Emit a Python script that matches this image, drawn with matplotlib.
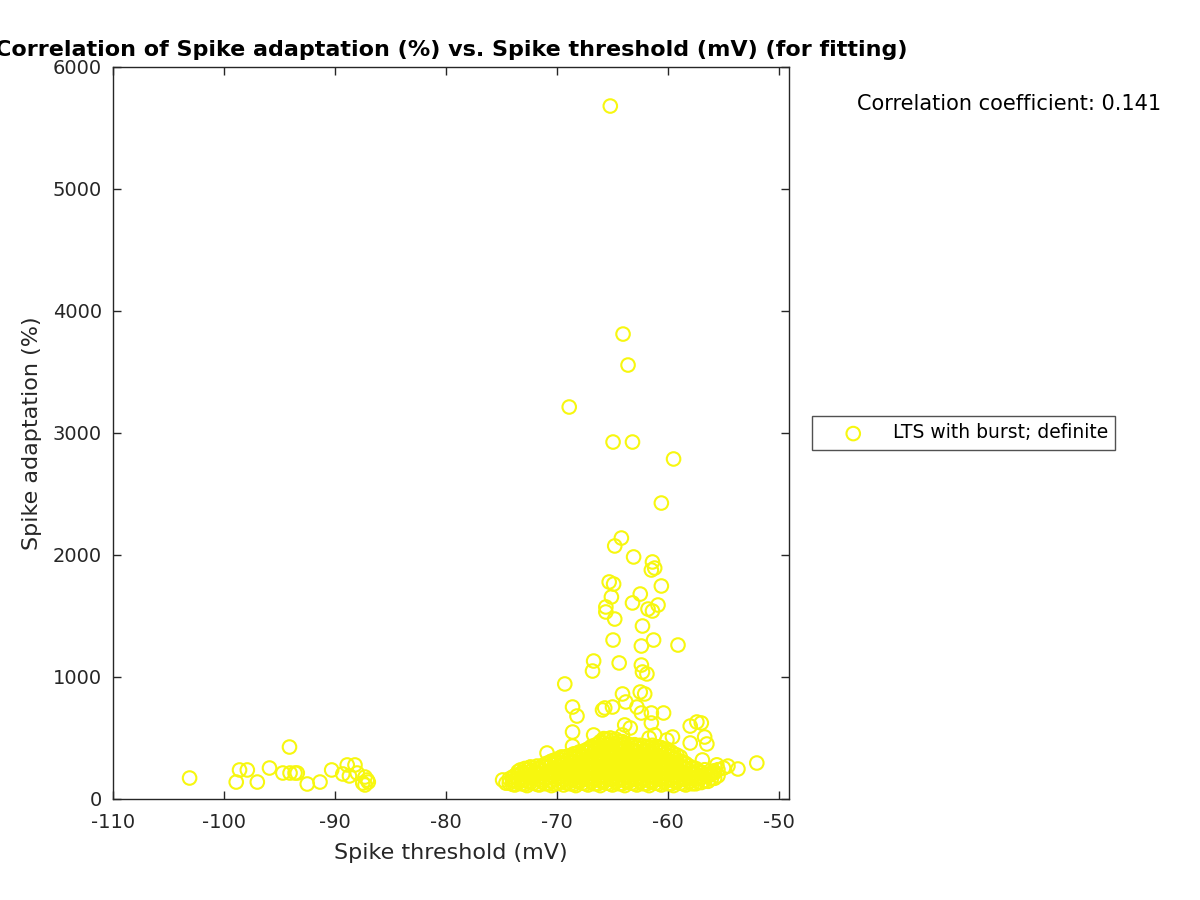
import numpy as np
import matplotlib
matplotlib.use('Agg')
import matplotlib.pyplot as plt

plt.rcParams['axes.unicode_minus'] = False

# isolated cells with very low threshold
left_x = [-103.1, -98.9, -98.6, -97.9, -97.0, -95.9, -94.7, -94.1, -94.05, -93.6,
          -93.4, -92.5, -91.35, -90.3, -89.3, -88.9, -88.2, -88.7, -88.0,
          -87.3, -87.1, -87.5, -87.3, -87.0]
left_y = [172, 139, 238, 238, 139, 254, 213, 426, 213, 213,
          213, 123, 139, 238, 205, 279, 279, 189, 213,
          180, 156, 131, 115, 139]

# high adaptation outliers
high_x = [-65.2, -64.05, -63.6, -68.9, -64.95, -63.2, -59.5, -60.6, -64.2, -64.8,
          -63.1, -61.4, -61.2, -61.5, -65.3, -64.9, -60.6, -62.5, -65.1, -65.6,
          -65.6, -63.2, -60.9, -61.8, -61.4, -64.8, -62.3, -64.95, -61.3, -59.1,
          -62.4, -66.7, -62.4, -66.8, -62.3, -61.9, -69.3, -64.4, -64.1, -63.8,
          -62.5, -62.1, -65.9, -65.7, -65.0, -62.8, -62.4, -61.5, -60.4, -61.5,
          -68.6, -68.2, -68.6, -68.6, -70.9]
high_y = [5680, 3811, 3557, 3213, 2926, 2926, 2787, 2426, 2139, 2074,
          1984, 1943, 1893, 1877, 1779, 1762, 1746, 1680, 1656, 1574,
          1533, 1607, 1590, 1557, 1541, 1475, 1418, 1303, 1303, 1262,
          1254, 1131, 1098, 1049, 1041, 1025, 943, 1115, 861, 795,
          877, 861, 730, 746, 754, 754, 705, 705, 705, 623,
          754, 680, 549, 434, 377]

# sparse points around the main cluster
edge_x = [-58.0, -57.4, -57.0, -56.7, -56.5, -58.0, -52.0, -53.7, -55.0, -74.9,
          -73.3, -72.4, -66.7, -65.7, -63.9, -64.1, -63.4, -61.7, -61.2, -60.1,
          -59.6, -74.6, -56.2, -55.6, -57.4, -56.9, -54.6, -55.9]
edge_y = [598, 631, 623, 508, 451, 459, 295, 246, 254, 156,
          238, 262, 525, 484, 607, 525, 582, 500, 525, 484,
          508, 130, 200, 280, 180, 320, 270, 230]

# dense cluster, read column by column
blob_cols_x = [-74.3, -74.0, -73.8, -73.5, -73.2, -72.9, -72.7, -72.4, -72.1, -71.8,
               -71.6, -71.3, -71.0, -70.7, -70.5, -70.2, -69.9, -69.6, -69.4, -69.1,
               -68.8, -68.5, -68.3, -68.0, -67.7, -67.4, -67.2, -66.9, -66.6, -66.3,
               -66.1, -65.8, -65.5, -65.2, -65.0, -64.7, -64.4, -64.1, -63.9, -63.6,
               -63.3, -63.0, -62.8, -62.5, -62.2, -61.9, -61.7, -61.4, -61.1, -60.8,
               -60.6, -60.3, -60.0, -59.7, -59.5, -59.2, -58.9, -58.6, -58.4, -58.1,
               -57.8, -57.5, -57.3, -57.0, -56.7, -56.4, -56.1, -55.8, -55.5]
blob_cols_y = [
    [130, 165], [120, 150, 180], [115, 150, 190], [135, 165, 200, 225],
    [125, 170, 215], [120, 160, 205, 250], [110, 145, 195, 240], [135, 180, 225, 260],
    [130, 175, 220, 255], [120, 165, 210, 245, 270], [115, 155, 205, 250],
    [140, 185, 235, 275], [125, 170, 215, 265, 290], [130, 175, 220, 260, 300],
    [110, 150, 195, 240, 285, 310], [120, 165, 210, 255, 300, 320],
    [130, 175, 220, 265, 300, 330], [140, 185, 235, 280, 320, 345],
    [115, 160, 205, 250, 290, 340], [130, 175, 225, 270, 315, 350],
    [125, 170, 215, 260, 305, 355], [120, 165, 210, 255, 300, 345, 370],
    [110, 150, 195, 240, 285, 330, 370], [140, 185, 230, 275, 320, 360, 385],
    [130, 175, 220, 265, 310, 355, 390], [125, 170, 215, 260, 305, 350, 400],
    [115, 160, 205, 250, 295, 340, 385, 410], [140, 185, 230, 275, 320, 365, 410, 430],
    [125, 170, 215, 260, 305, 350, 395, 440], [125, 170, 215, 260, 305, 350, 400, 450],
    [110, 150, 195, 240, 285, 330, 375, 420, 470],
    [140, 185, 230, 275, 320, 365, 410, 460, 495],
    [130, 175, 220, 265, 310, 355, 400, 445, 490],
    [125, 170, 215, 260, 305, 350, 400, 450, 500],
    [115, 160, 205, 250, 295, 340, 385, 430, 480],
    [140, 185, 230, 275, 320, 365, 410, 455, 490],
    [125, 170, 215, 260, 305, 350, 395, 440, 470],
    [125, 170, 215, 260, 305, 350, 400, 450, 470],
    [110, 150, 195, 240, 285, 330, 375, 420, 455],
    [140, 185, 230, 275, 320, 365, 410, 450],
    [130, 175, 220, 265, 310, 355, 400, 440], [125, 170, 215, 260, 305, 350, 395, 445],
    [115, 160, 205, 250, 295, 340, 385, 430], [140, 185, 230, 275, 320, 365, 410, 440],
    [125, 170, 215, 260, 305, 350, 395, 435], [125, 170, 215, 260, 305, 350, 395, 430],
    [110, 150, 195, 240, 285, 330, 375, 420], [140, 185, 230, 275, 320, 365, 410, 440],
    [130, 175, 220, 265, 310, 355, 400, 430], [125, 170, 215, 260, 305, 350, 395, 425],
    [115, 160, 205, 250, 295, 340, 385, 420], [140, 185, 230, 275, 320, 365, 405],
    [125, 170, 215, 260, 305, 350, 390], [125, 170, 215, 260, 305, 350, 385],
    [110, 150, 195, 240, 285, 330, 370], [140, 185, 230, 275, 320, 360],
    [130, 175, 220, 265, 310, 345], [125, 170, 215, 260, 300],
    [115, 160, 205, 250, 290], [140, 185, 230, 270],
    [125, 170, 215, 255], [125, 165, 205, 250], [140, 185, 230], [135, 180, 220],
    [150, 200, 240], [145, 190], [165, 210], [170, 215], [190, 240]]

blob_x = [cx for cx, col in zip(blob_cols_x, blob_cols_y) for _ in col]
blob_y = [v for col in blob_cols_y for v in col]

x = np.array(left_x + blob_x + edge_x + high_x)
y = np.array(left_y + blob_y + edge_y + high_y)
corr = 0.141

ax_color = (0.15, 0.15, 0.15)
yellow = '#f7f70f'

fig = plt.figure(figsize=(12, 9), dpi=100)
ax = fig.add_axes([113 / 1200, 1 - 799 / 900, (789 - 113) / 1200, (799 - 67) / 900])

ax.scatter(x, y, s=95, facecolors='none', edgecolors=yellow, linewidths=1.5,
           label='LTS with burst; definite')

ax.set_xlim(-110, -49.1)
ax.set_ylim(0, 6000)
ax.set_xticks(np.arange(-110, -49, 10))
ax.set_yticks(np.arange(0, 6001, 1000))

ax.tick_params(direction='in', length=6, width=1, colors=ax_color,
               labelsize=14, top=True, right=True)
ax.tick_params(axis='x', pad=10)
ax.tick_params(axis='y', pad=8)
for sp in ax.spines.values():
    sp.set_color(ax_color)
    sp.set_linewidth(1)

ax.set_xlabel('Spike threshold (mV)', fontsize=16, color=ax_color, labelpad=8)
ax.set_ylabel('Spike adaptation (%)', fontsize=16, color=ax_color, labelpad=8)
ax.set_title('Correlation of Spike adaptation (%) vs. Spike threshold (mV) (for fitting)',
             fontsize=16, fontweight='bold', pad=8)

fig.text(857 / 1200, 1 - 104 / 900, 'Correlation coefficient: %.3f' % corr,
         fontsize=15, va='center', ha='left')

leg = fig.legend(loc='center left', bbox_to_anchor=(812 / 1200, 1 - 433 / 900),
                 fontsize=13.5, frameon=True, fancybox=False, edgecolor=ax_color,
                 borderpad=0.4, handlelength=3.6, handletextpad=0.3,
                 borderaxespad=0)
leg.get_frame().set_linewidth(1)

fig.savefig('out.png', dpi=100)
